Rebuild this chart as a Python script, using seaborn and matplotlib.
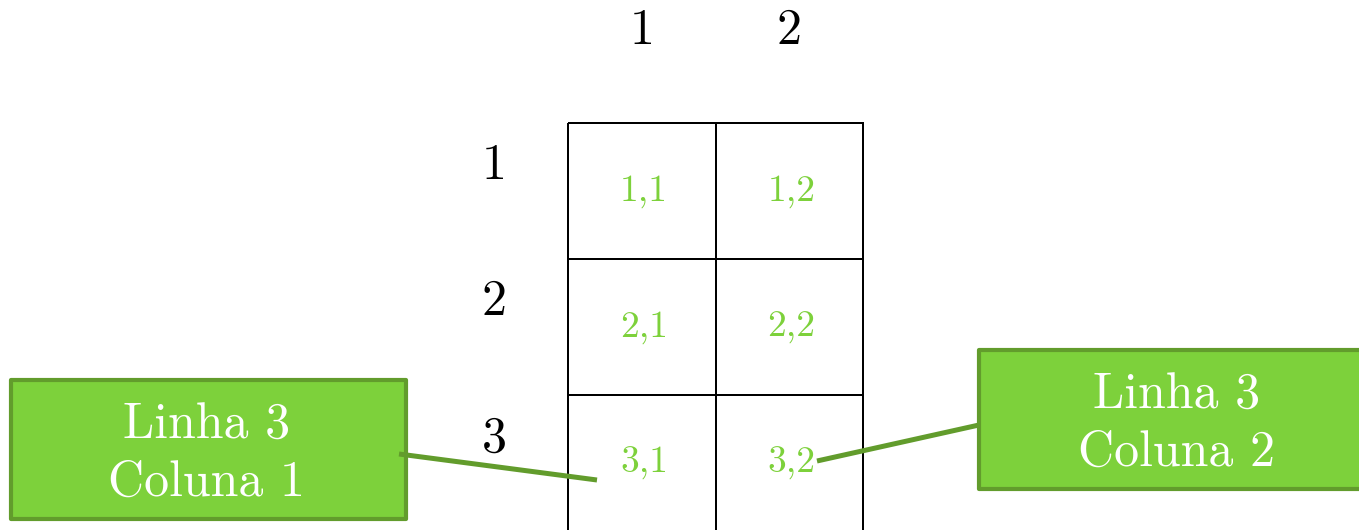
import numpy as np
import matplotlib
matplotlib.use("Agg")
import matplotlib.pyplot as plt
import seaborn as sns
from matplotlib.colors import ListedColormap
from matplotlib.patches import Rectangle

# Matrix layout: 3 labelled rows (a 4th one is cut by the figure edge), 2 columns.
row_labels = ["1", "2", "3"]
col_labels = ["1", "2"]
n_rows_drawn = 4
callout_texts = ["Linha 3\nColuna 1", "Linha 3\nColuna 2"]

green = "#7dd13b"
dark_green = "#629c2c"
serif = "cmr10"

sns.set_theme(style="white")
plt.rcParams["font.family"] = serif

W, H = 1359, 530
fig = plt.figure(figsize=(W / 100, H / 100), dpi=100)

# cell annotations "row,col"; the last row is empty
annot = np.full((n_rows_drawn, len(col_labels)), "", dtype=object)
for i, r in enumerate(row_labels):
    for j, c in enumerate(col_labels):
        annot[i, j] = f"{r},{c}"

grid_left, grid_top, cell_w, cell_h = 568, 123, 147.5, 136
ax = fig.add_axes([grid_left / W, 1 - (grid_top + n_rows_drawn * cell_h) / H,
                   len(col_labels) * cell_w / W, n_rows_drawn * cell_h / H])
sns.heatmap(np.zeros(annot.shape), ax=ax, cmap=ListedColormap(["white"]), cbar=False,
            linewidths=1.4, linecolor="black", annot=annot, fmt="",
            annot_kws={"color": green, "fontsize": 27, "fontfamily": serif})
ax.collections[0].set_clip_on(False)
# labels sit a touch right of the cell centres in the original
for t in ax.texts:
    x, y = t.get_position()
    t.set_position((x + 0.015, y))

# column headers on top, row headers on the left
ax.xaxis.tick_top()
ax.set_xticks(np.arange(len(col_labels)) + 0.5)
ax.set_xticklabels(col_labels, fontsize=36, fontfamily=serif, color="black")
ax.set_yticks(np.arange(len(row_labels)) + 0.32)
ax.set_yticklabels(row_labels, fontsize=36, fontfamily=serif, color="black", rotation=0)
ax.tick_params(axis="x", length=0, pad=50)
ax.tick_params(axis="y", length=0, pad=44)
ax.set_xlabel("")
ax.set_ylabel("")

# overlay for callouts
ov = fig.add_axes([0, 0, 1, 1])
ov.set_xlim(0, W)
ov.set_ylim(H, 0)
ov.set_axis_off()
ov.patch.set_visible(False)

boxes = [(11, 380, 395, 139), (979, 350, 400, 139)]
connectors = [((399, 597), (454, 480)), ((817, 979), (461, 425))]
for (x, y, w, h), txt in zip(boxes, callout_texts):
    ov.add_patch(Rectangle((x, y), w, h, facecolor=green, edgecolor=dark_green,
                           linewidth=3, joinstyle="round", clip_on=False))
    ov.text(x + w / 2 - 2, y + h / 2 + 5, txt, color="white", fontsize=36,
            fontfamily=serif, ha="center", va="center", linespacing=1.3)
for xs, ys in connectors:
    ov.plot(xs, ys, color=dark_green, linewidth=3.6, solid_capstyle="butt")

fig.savefig("out.png", dpi=100)
